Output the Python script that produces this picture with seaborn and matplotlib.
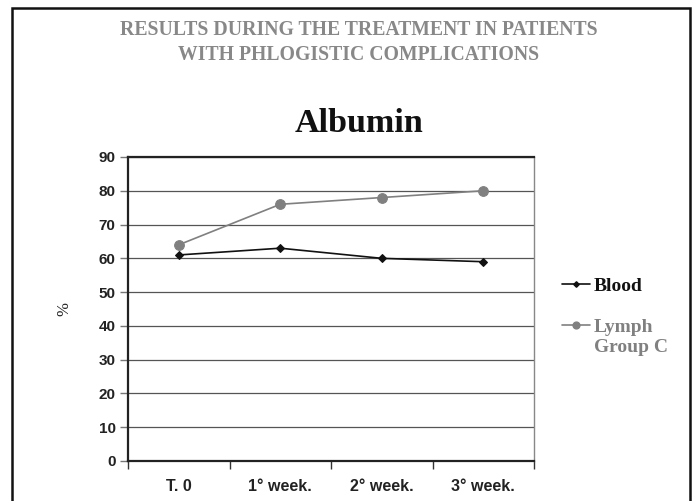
import matplotlib
matplotlib.use("Agg")
import matplotlib.pyplot as plt
import seaborn as sns
import pandas as pd
import numpy as np
from matplotlib.patches import Rectangle
from matplotlib.lines import Line2D

categories = ["T. 0", "1° week.", "2° week.", "3° week."]
blood = [61, 63, 60, 59]
lymph = [64, 76, 78, 80]
series_names = ["Blood", "Lymph"]
series_sub = ["", "Group C"]
yticks = [0, 10, 20, 30, 40, 50, 60, 70, 80, 90]
header_lines = ["RESULTS DURING THE TREATMENT IN PATIENTS", "WITH PHLOGISTIC COMPLICATIONS"]

sns.set_theme(style="white")
plt.rcParams['font.family'] = ['Liberation Sans', 'DejaVu Sans']

df = pd.DataFrame({
    "x": list(range(len(categories))) * 2,
    "value": blood + lymph,
    "series": [series_names[0]] * len(blood) + [series_names[1]] * len(lymph),
})

W, H = 697, 501
fig = plt.figure(figsize=(W/100, H/100), dpi=100)
ax = fig.add_axes([128/W, 1 - 461/H, (534-128)/W, (461-157)/H])

colors = {series_names[0]: "#111111", series_names[1]: "#808080"}
markers = {series_names[0]: "D", series_names[1]: "o"}
sizes = {series_names[0]: 4, series_names[1]: 7}
for name in series_names:
    sub = df[df.series == name]
    sns.lineplot(data=sub, x="x", y="value", ax=ax, color=colors[name],
                 marker=markers[name], markersize=sizes[name], linewidth=1.2,
                 markeredgecolor=colors[name], legend=False)

ax.set_xlim(-0.5, len(categories) - 0.5)
ax.set_ylim(0, 90)
ax.set_yticks(yticks)
ax.set_yticklabels([str(v) for v in yticks], fontsize=11, fontweight="bold", color="#222222")
ax.set_xticks(np.arange(len(categories) + 1) - 0.5)
ax.set_xticklabels([])
ax.set_xticks(np.arange(len(categories)), minor=True)
ax.set_xticklabels(categories, minor=True, fontsize=11.5, fontweight="bold", color="#222222")
ax.tick_params(axis="x", which="major", length=6, width=1, color="#333333", direction="out", bottom=True)
ax.tick_params(axis="x", which="minor", length=0, pad=13)
ax.tick_params(axis="y", length=6, width=1, color="#777777", direction="out", left=True, pad=3)
ax.yaxis.grid(True, color="#555555", linewidth=0.9)
ax.set_axisbelow(True)
ax.set_xlabel("")
ax.set_ylabel("%", fontsize=12, family=["Liberation Serif"], color="#222222")
ax.yaxis.set_label_coords(-56/406, 0.5)

for s in ["left", "bottom", "top"]:
    ax.spines[s].set_color("#222222")
    ax.spines[s].set_linewidth(1.6)
ax.spines["right"].set_color("#888888")
ax.spines["right"].set_linewidth(1.0)

# legend
handles = [Line2D([0], [0], color=colors[n], marker=markers[n], markersize=sizes[n]*0.7, linewidth=1.2) for n in series_names]
leg = fig.legend(handles, series_names, loc="upper left", bbox_to_anchor=(544/W, 1 - 260/H),
                 frameon=False, handlelength=1.45, handletextpad=0.2, labelspacing=1.2,
                 prop={"family": "Liberation Serif", "weight": "bold", "size": 14})
for t, n in zip(leg.get_texts(), series_names):
    t.set_color(colors[n])
fig.text(594/W, 1 - 348/H, series_sub[1], ha="left", va="center", fontsize=14, fontweight="bold",
         color=colors[series_names[1]], family="Liberation Serif")

# titles
for i, line in enumerate(header_lines):
    fig.text(359/W, 1 - (30 + 25*i)/H, line, ha="center", va="center", fontsize=14.2,
             fontweight="bold", color="#888888", family="Liberation Serif")
fig.text(359/W, 1 - 124/H, "Albumin", ha="center", va="center", fontsize=24.5, fontweight="bold",
         color="#111111", family="Liberation Serif")

# outer border
fig.patches.append(Rectangle((12/W, -0.01), (690-12)/W, 1 - 8/H + 0.01, transform=fig.transFigure,
                             fill=False, edgecolor="#111111", linewidth=1.8))

fig.savefig("out.png", dpi=100)
